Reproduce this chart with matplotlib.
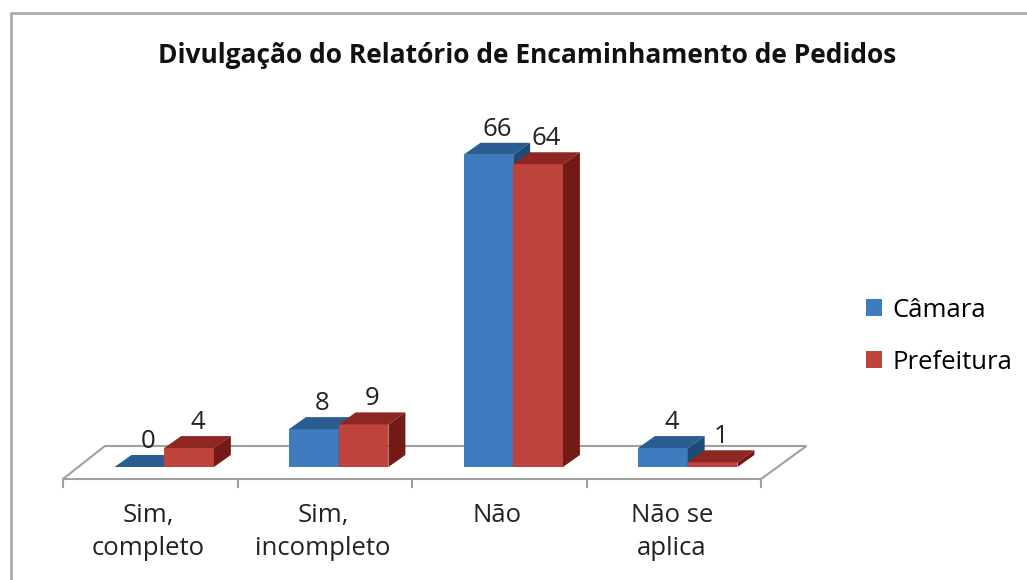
import numpy as np
import matplotlib.pyplot as plt
from matplotlib.patches import Polygon, Patch
from matplotlib.lines import Line2D

categorias = ['Sim,\ncompleto', 'Sim,\nincompleto', 'Não', 'Não se\naplica']
camara = [0, 8, 66, 4]
prefeitura = [4, 9, 64, 1]
series = ['Câmara', 'Prefeitura']

azul, azul_topo, azul_lado = '#3f7bbf', '#2a5e93', '#1e4a78'
verm, verm_topo, verm_lado = '#bf433d', '#8e2621', '#741a16'

plt.rcParams['font.family'] = ['Open Sans', 'DejaVu Sans']

fig = plt.figure(figsize=(10.27, 5.80), dpi=100)
ax = fig.add_axes([0, 0, 1, 1])
ax.set_xlim(-0.861, 5.024)
ax.set_ylim(-23.89, 98.73)
ax.axis('off')

# profundidade do efeito 3D (unidades dos dados)
dx, dy = 0.097, 2.54
# chao
fx0, fy0 = -0.5, -2.54
chao = Polygon([(fx0, fy0), (3.5, fy0), (3.5 + 0.26, 4.44), (fx0 + 0.24, 4.44)],
               closed=True, facecolor='white', edgecolor='#a0a0a0', lw=1.5, zorder=1)
ax.add_patch(chao)
for t in np.arange(-0.5, 3.6, 1.0):
    ax.plot([t, t], [fy0, fy0 - 1.7], color='#a0a0a0', lw=1.5, zorder=1)

x = np.arange(len(categorias))
w = 0.285
off = 0.08


def barra3d(xc, h, cf, ct, cl, z):
    x0, x1 = xc - w / 2, xc + w / 2
    ax.bar(xc, h, w, color=cf, edgecolor='none', zorder=z)
    ax.add_patch(Polygon([(x0, h), (x1, h), (x1 + dx, h + dy), (x0 + dx, h + dy)],
                         facecolor=ct, edgecolor='none', zorder=z))
    ax.add_patch(Polygon([(x1, 0), (x1, h), (x1 + dx, h + dy), (x1 + dx, dy)],
                         facecolor=cl, edgecolor='none', zorder=z))


fs = 18.5
for i in range(len(categorias)):
    xb = x[i] + off - w / 2
    xr = x[i] + off + w / 2
    barra3d(xb, camara[i], azul, azul_topo, azul_lado, 3)
    barra3d(xr, prefeitura[i], verm, verm_topo, verm_lado, 4)
    ax.text(xb + dx / 2, camara[i] + dy + 0.2, str(camara[i]), ha='center',
            va='bottom', fontsize=fs, color='#222222')
    ax.text(xr + dx / 2, prefeitura[i] + dy + 0.2, str(prefeitura[i]), ha='center',
            va='bottom', fontsize=fs, color='#222222')
    ax.text(x[i] - 0.01, -7.6, categorias[i], ha='center', va='top', fontsize=fs,
            color='#222222', linespacing=1.42)

fig.text(0.513, 0.905, 'Divulgação do Relatório de Encaminhamento de Pedidos',
         ha='center', va='center', fontsize=19, fontweight='bold', color='#111111')

handles = [Patch(facecolor=azul), Patch(facecolor=verm)]
fig.legend(handles, series, loc='center left', bbox_to_anchor=(0.843, 0.42),
           frameon=False, fontsize=fs, handlelength=0.65, handleheight=0.65,
           handletextpad=0.4, labelspacing=1.05, borderpad=0, borderaxespad=0)

# moldura
fig.add_artist(Line2D([0.011, 0.011, 1.0], [0.0, 0.978, 0.978], color='#ababab', lw=2))

fig.savefig('out.png', dpi=100)
